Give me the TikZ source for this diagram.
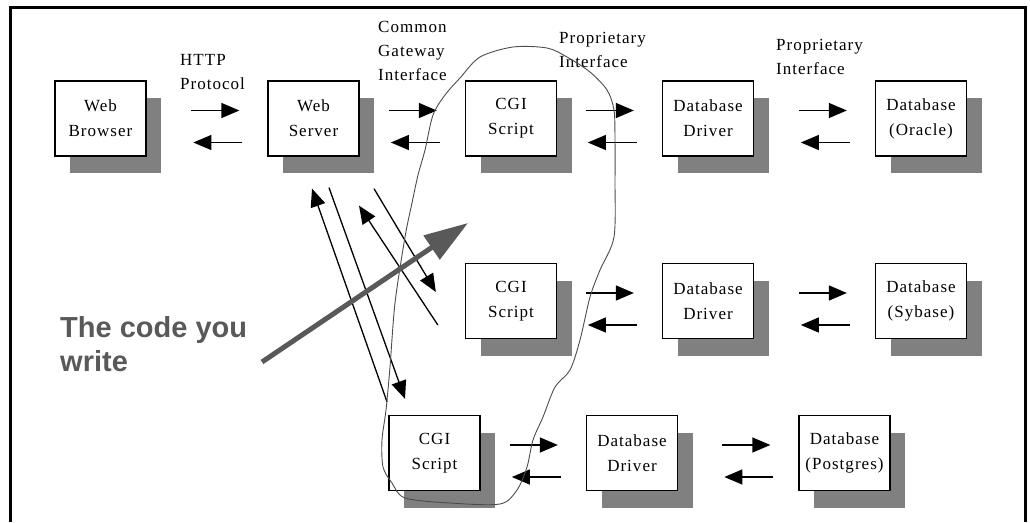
\documentclass[tikz,border=0pt]{standalone}
\usepackage{fontspec}
\setmainfont{Liberation Serif}
\newfontfamily\boxfont[LetterSpace=6]{Liberation Serif}
\newfontfamily\codefont{Liberation Sans}
\usetikzlibrary{arrows.meta,shadows,calc}

\begin{document}
\begin{tikzpicture}[x=1pt,y=-1pt,
    box/.style={draw, line width=1.3pt, fill=white, minimum width=91pt, minimum height=75pt,
      inner sep=0pt, align=center, font=\boxfont\fontsize{17}{25}\selectfont,
      general shadow={fill=black!50, shadow xshift=15pt, shadow yshift=-17pt}},
    lbl/.style={anchor=north west, inner sep=0pt, align=left, font=\boxfont\fontsize{17}{24}\selectfont},
    arr/.style={line width=1.3pt, -{Triangle[length=18pt,width=15pt]}},
    blob/.style={black!70, line width=0.9pt}]
    \useasboundingbox (0,0) rectangle (1030,522);
    % cadre
    \draw[line width=3pt] (10.5,522) -- (10.5,7.5) -- (1025.5,7.5) -- (1025.5,522);
    % Labels des interfaces
    \node[lbl] (http) at (180,54) {HTTP\\Protocol};
    \node[lbl] (cgiif) at (378,21) {Common\\Gateway\\Interface};
    \node[lbl] (prop1) at (559,32) {Proprietary\\Interface};
    \node[lbl] (prop2) at (776,39) {Proprietary\\Interface};
    % Boites
    \node[box] (wb) at (100.5,118.5) {Web\\Browser};
    \node[box] (ws) at (313.5,118.5) {Web\\Server};
    \node[box] (cgiA) at (511,118.5) {CGI\\Script};
    \node[box] (ddA) at (708,118.5) {Database\\Driver};
    \node[box] (ora) at (921,118.5) {Database\\(Oracle)};
    \node[box] (cgiB) at (511,301) {CGI\\Script};
    \node[box] (ddB) at (708,301) {Database\\Driver};
    \node[box] (syb) at (921,301) {Database\\(Sybase)};
    \node[box] (cgiC) at (434.5,453) {CGI\\Script};
    \node[box] (ddC) at (632,453) {Database\\Driver};
    \node[box] (pg) at (844.5,453) {Database\\(Postgres)};
    % Fleches horizontales
    \foreach \r in {ws,cgiA,ddA,ora,ddB,syb,ddC,pg} {
      \draw[arr] ($(\r.west)+(-76,-8)$) -- ($(\r.west)+(-28,-8)$);
      \draw[arr] ($(\r.west)+(-25,24)$) -- ($(\r.west)+(-74,24)$);
    }
    % Fleches obliques
    \coordinate (a1) at ($(cgiC.north)+(-47.5,-13)$);
    \coordinate (a2) at ($(ws.south)+(-1.5,32)$);
    \coordinate (b1) at ($(ws.south)+(15.5,31)$);
    \coordinate (b2) at ($(cgiC.north)+(-29.5,-16)$);
    \coordinate (c1) at ($(cgiB.west)+(-27,24)$);
    \coordinate (c2) at ($(ws.south)+(45.5,49)$);
    \coordinate (d1) at ($(ws.south)+(60.5,32)$);
    \coordinate (d2) at ($(cgiB.west)+(-29,-9)$);
    \draw[arr] (a1) -- (a2);
    \draw[arr] (b1) -- (b2);
    \draw[arr] (c1) -- (c2);
    \draw[arr] (d1) -- (d2);
    % Le code CGI
    \draw[blob] plot[smooth cycle, tension=0.5] coordinates {
      (513,47) (547,48) (567,57) (590,72) (607,90) (614,110) (615,140) (615,180)
      (614,237) (600,270) (590,297) (580,340) (570,370) (555,387) (543,417)
      (533,440) (527,467) (517,490) (500,504) (450,503) (405,498) (392,483)
      (383,467) (382,440) (386,410) (390,367) (395,303) (405,237) (412,203)
      (418,175) (425,150) (433,115) (445,95) (460,78) (480,57)};
    \node[anchor=north west, inner sep=0pt, align=left, text=black!65,
      font=\codefont\bfseries\fontsize{29}{34}\selectfont] (code) at (60,316) {The code you\\write};
    \coordinate (tail) at (262,362);
    \coordinate (tip) at (468,223);
    \draw[black!65, line width=5pt, -{Triangle[length=44pt,width=28pt]}] (tail) -- (tip);
\end{tikzpicture}
\end{document}
